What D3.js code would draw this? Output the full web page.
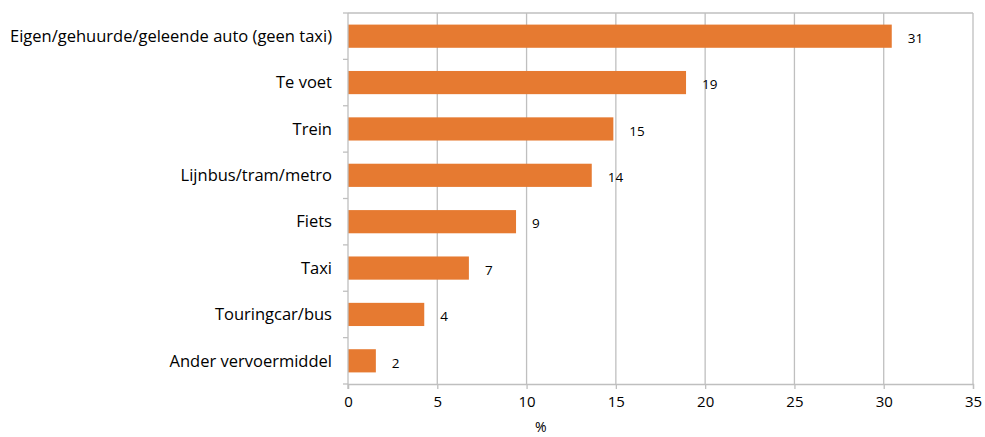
<!DOCTYPE html>
<html>
<head>
<meta charset="utf-8">
<script src="https://cdn.jsdelivr.net/npm/d3@7"></script>
<style>
  body { margin: 0; background: #fff; }
  svg text { font-family: "Open Sans", sans-serif; fill: #000; }
</style>
</head>
<body>
<svg id="chart"></svg>
<script>
let width = 985, height = 437
let margin = {top: 13, right: 12, bottom: 53, left: 348}

let categories = ['Eigen/gehuurde/geleende auto (geen taxi)', 'Te voet', 'Trein', 'Lijnbus/tram/metro', 'Fiets', 'Taxi', 'Touringcar/bus', 'Ander vervoermiddel']
let values = [30.45, 18.93, 14.86, 13.65, 9.41, 6.77, 4.27, 1.56]
let valueLabels = ['31', '19', '15', '14', '9', '7', '4', '2']
let xTicks = [0, 5, 10, 15, 20, 25, 30, 35]
let axisTitle = '%'

let svg = d3.select('#chart').attr('width', width).attr('height', height)
let innerW = width - margin.left - margin.right
let innerH = height - margin.top - margin.bottom
let g = svg.append('g').attr('transform', `translate(${margin.left},${margin.top})`)

let x = d3.scaleLinear().domain([0, 35]).range([0, innerW])
let y = d3.scaleBand().domain(categories).range([0, innerH]).paddingInner(0.5).paddingOuter(0.25)
let band = d3.scaleBand().domain(categories).range([0, innerH])

// vertical grid lines
g.selectAll('.grid').data(xTicks.slice(1)).enter().append('line')
  .attr('x1', d => x(d)).attr('x2', d => x(d))
  .attr('y1', 0).attr('y2', innerH)
  .attr('stroke', '#bfbfbf').attr('stroke-width', 1.3)

// top border
g.append('line').attr('x1', 0).attr('x2', innerW).attr('y1', 0).attr('y2', 0)
  .attr('stroke', '#bfbfbf').attr('stroke-width', 1.3)

// bars
g.selectAll('.bar').data(values).enter().append('rect')
  .attr('x', x(0))
  .attr('y', (d, i) => y(categories[i]))
  .attr('width', d => x(d) - x(0))
  .attr('height', y.bandwidth())
  .attr('fill', '#e67a31')

// value labels
g.selectAll('.val').data(values).enter().append('text')
  .attr('x', d => x(d) + 16)
  .attr('y', (d, i) => y(categories[i]) + y.bandwidth() / 2 + 2)
  .attr('dy', '0.35em')
  .style('font-size', '13.5px')
  .text((d, i) => valueLabels[i])

// x axis
let xAxis = g.append('g').attr('transform', `translate(0,${innerH})`)
  .call(d3.axisBottom(x).tickValues(xTicks).tickSize(5).tickPadding(7))
xAxis.select('.domain').attr('stroke', '#bfbfbf').attr('stroke-width', 1.3)
xAxis.selectAll('.tick line').attr('stroke', '#bfbfbf').attr('stroke-width', 1.3)
xAxis.selectAll('.tick text').style('font-size', '15px').style('font-family', '"Open Sans", sans-serif').attr('fill', '#000')

// y axis: ticks at band boundaries
g.append('line').attr('x1', 0).attr('x2', 0).attr('y1', 0).attr('y2', innerH + 5)
  .attr('stroke', '#bfbfbf').attr('stroke-width', 1.3)
let bounds = categories.map(c => band(c)).concat([innerH])
g.selectAll('.ytick').data(bounds).enter().append('line')
  .attr('x1', -5).attr('x2', 0)
  .attr('y1', d => d).attr('y2', d => d)
  .attr('stroke', '#bfbfbf').attr('stroke-width', 1.3)

g.selectAll('.cat').data(categories).enter().append('text')
  .attr('x', -16)
  .attr('y', d => band(d) + band.bandwidth() / 2)
  .attr('dy', '0.35em')
  .attr('text-anchor', 'end')
  .style('font-size', '16.5px')
  .text(d => d)

// axis title
svg.append('text')
  .attr('x', margin.left + x(10.8))
  .attr('y', 432)
  .attr('text-anchor', 'middle')
  .style('font-size', '14px')
  .text(axisTitle)
</script>
</body>
</html>
